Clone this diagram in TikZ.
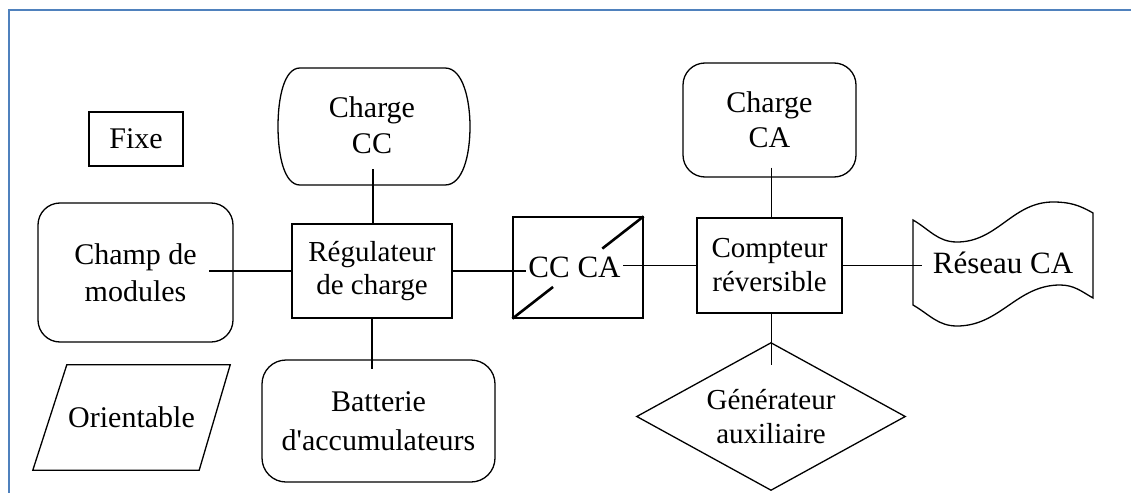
\documentclass[tikz,border=0pt]{standalone}
\usepackage{fontspec}
\setmainfont{Liberation Serif}[Ligatures=TeXOff]
\usetikzlibrary{calc}
\definecolor{framec}{RGB}{79,129,189}
\begin{document}
\begin{tikzpicture}[x=1pt,y=-1pt,
  lbl/.style={align=center,inner sep=0pt,font=\fontsize{30}{36}\selectfont},
  blk/.style={draw,line width=1.3pt},
  ghost/.style={draw=none},
  wire/.style={line width=1.3pt}]
\useasboundingbox (0,0) rectangle (1131,492);
\fill[white] (0,0) rectangle (1131,492);
% frame
\draw[line width=2.6pt,color=framec] (9,493) -- (9,10) -- (1132,10);

% blocks
\node[blk,lbl,minimum width=94pt,minimum height=54pt] (fixe) at (136,139) {Fixe};
\node[blk,lbl,rounded corners=22pt,minimum width=195pt,minimum height=139pt,
      font=\fontsize{30}{37}\selectfont] (champ) at (135.5,272.5) {Champ de\\modules};
\node[lbl,ghost,minimum width=197pt,minimum height=105pt] (orient) at (131.5,417.5) {Orientable};
\draw[blk] (orient.south west) -- ($(orient.north west)+(34,0)$) -- (orient.north east)
  -- ($(orient.south east)+(-31,0)$) -- cycle;

\node[lbl,ghost,minimum width=192pt,minimum height=117pt] (chcc) at (372,125.5) {Charge\\CC};
\draw[blk] (300,68) -- (445,68) .. controls (463,68) and (470,100) .. (470,126.5)
  .. controls (470,155) and (463,185) .. (445,185) -- (300,185)
  .. controls (284,185) and (278,155) .. (278,126.5)
  .. controls (278,98) and (284,68) .. (300,68) -- cycle;

\node[blk,lbl,minimum width=160pt,minimum height=94pt,
      font=\fontsize{29}{33}\selectfont] (reg) at (372,271) {Régulateur\\de charge};
\node[blk,lbl,rounded corners=24pt,minimum width=233pt,minimum height=122pt,
      font=\fontsize{30}{39}\selectfont] (bat) at (378.5,421) {Batterie\\d'accumulateurs};

\node[blk,lbl,minimum width=130pt,minimum height=101pt,font=\fontsize{31}{36}\selectfont] (ccca) at (578,267.5) {\hspace*{-7pt}CC CA};
\draw[line width=2.6pt] (ccca.south west) -- ($(ccca.south west)!0.31!(ccca.north east)$);
\draw[line width=2.6pt] ($(ccca.south west)!0.685!(ccca.north east)$) -- (ccca.north east);

\node[blk,lbl,rounded corners=22pt,minimum width=173pt,minimum height=114pt,
      font=\fontsize{30}{35}\selectfont] (chca) at (769.5,120) {Charge\\CA};
\node[blk,lbl,minimum width=145pt,minimum height=95pt,
      font=\fontsize{29}{34}\selectfont] (comp) at (769.5,265.5) {Compteur\\réversible};
\node[lbl,ghost,minimum width=268pt,minimum height=147pt,
      font=\fontsize{29}{34}\selectfont] (gen) at (771,416.5) {Générateur\\auxiliaire};
\draw[blk] (gen.north) -- (gen.east) -- (gen.south) -- (gen.west) -- cycle;

\node[lbl,ghost,minimum width=180pt,minimum height=80pt,font=\fontsize{31}{36}\selectfont] (res) at (1003,263) {Réseau CA};
\draw[blk] (913,220) to[out=-30,in=180] (957,242) to[out=0,in=180] (1053,202)
  to[out=0,in=150] (1093,213) -- (1093,298)
  to[out=150,in=0] (1060,285) to[out=180,in=0] (957,326)
  to[out=180,in=-30] (913,305) -- cycle;

% connectors
\draw[wire] ($(chcc.south)+(1,-15)$) -- ($(chcc.south)+(1,0)$) |- (reg.north);
\draw[wire] (reg.west) -- ($(reg.west -| champ.east)+(-25,0)$);
\draw[wire] (reg.south) -- ($(reg.south |- bat.north)+(0,10)$);
\draw[wire] (reg.east) -- ($(reg.east -| ccca.west)+(14,0)$);
\draw[wire] (comp.west) -- ($(comp.west -| ccca.east)+(-21,0)$);
\draw[wire] ($(chca.south)+(2,-10)$) -- ($(chca.south)+(2,0)$) |- (comp.north);
\draw[wire] ($(comp.south)+(2,0)$) -- ($(comp.south |- gen.north)+(2,22)$);
\draw[wire] (comp.east) -- ($(comp.east -| res.west)+(9,0)$);
\end{tikzpicture}
\end{document}
